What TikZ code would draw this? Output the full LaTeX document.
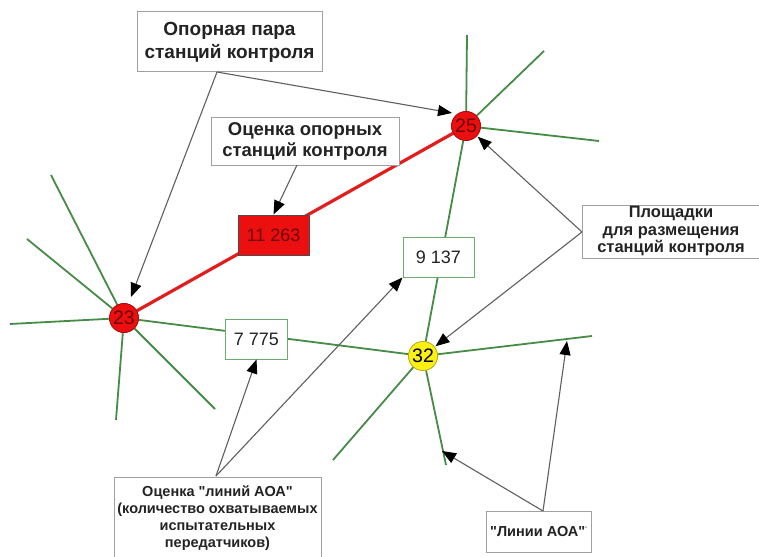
\documentclass[tikz,border=0pt]{standalone}
\usepackage{fontspec}
\setmainfont{Liberation Sans}[Ligatures=TeXOff]
\usetikzlibrary{arrows.meta}
\definecolor{lgreen}{RGB}{70,140,70}
\definecolor{nbgreen}{RGB}{110,170,110}
\definecolor{boxgray}{RGB}{160,160,160}
\definecolor{arrgray}{RGB}{95,95,95}
\definecolor{nred}{RGB}{235,15,15}
\definecolor{lred}{RGB}{225,30,30}
\definecolor{dred}{RGB}{110,5,5}
\definecolor{nyel}{RGB}{250,240,20}
\definecolor{txt}{RGB}{35,35,35}
\begin{document}
\begin{tikzpicture}[x=1pt,y=-1pt,
  station/.style={circle,draw=#1!70!black,fill=#1,line width=0.6pt,minimum size=29pt,inner sep=0pt,
    font=\fontsize{19.5}{19.5}\selectfont},
  callout/.style={draw=boxgray,fill=white,line width=1pt,align=center,text=txt,inner sep=0pt},
  numbox/.style={draw=nbgreen,fill=white,line width=1pt,inner sep=0pt,text=txt,
    font=\fontsize{18}{18}\selectfont},
  gline/.style={lgreen,line width=1.8pt},
  rline/.style={lred,line width=3.2pt},
  pointer/.style={arrgray,line width=1.1pt,-{Triangle[length=14pt,width=11pt,color=black]}}
]
\useasboundingbox (0,0) rectangle (759,556);
\fill[white] (0,0) rectangle (759,556);

% stations
\node[station=nred,text=dred] (s23) at (124,318) {23};
\node[station=nred,text=dred] (s25) at (466,126) {25};
\node[station=nyel,text=black] (s32) at (423,356) {32};

% free ends of AOA lines
\coordinate (a1) at (51,175);
\coordinate (a2) at (27,239);
\coordinate (a3) at (10,324);
\coordinate (a4) at (116,420);
\coordinate (a5) at (215,409);
\coordinate (b1) at (467,35);
\coordinate (b2) at (544,51);
\coordinate (b3) at (599,141);
\coordinate (c1) at (592,336);
\coordinate (c2) at (333,460);
\coordinate (c3) at (446,465);

\foreach \e in {a1,a2,a3,a4,a5} \draw[gline] (s23) -- (\e);
\foreach \e in {b1,b2,b3} \draw[gline] (s25) -- (\e);
\foreach \e in {c1,c2,c3} \draw[gline] (s32) -- (\e);
\draw[gline] (s23) -- (s32);
\draw[gline] (s25) -- (s32);
\draw[rline] (s23) -- (s25);
% redraw stations on top
\node[station=nred,text=dred] at (124,318) {23};
\node[station=nred,text=dred] at (466,126) {25};
\node[station=nyel,text=black] at (423,356) {32};

% number boxes
\node[draw=black!70,fill=nred,line width=1pt,inner sep=0pt,minimum width=71pt,minimum height=40pt,
  text=dred,font=\fontsize{18}{18}\selectfont] (n11263) at (273.5,235) {11 263};
\node[numbox,minimum width=71pt,minimum height=40pt] (n9137) at (438.5,257) {9 137};
\node[numbox,minimum width=62pt,minimum height=40pt] (n7775) at (256.5,339) {7 775};

% callouts
\node[callout,minimum width=185pt,minimum height=60pt,font=\bfseries\fontsize{19}{23}\selectfont]
  (opara) at (229.5,42) {Опорная пара\\станций контроля};
\node[callout,minimum width=188pt,minimum height=47pt,font=\bfseries\fontsize{18.5}{21.5}\selectfont]
  (ooporn) at (305,141.5) {Оценка опорных\\станций контроля};
\node[callout,minimum width=178pt,minimum height=53pt,font=\bfseries\fontsize{16.5}{17.5}\selectfont]
  (plosh) at (671,231.5) {Площадки\\для размещения\\станций контроля};
\node[callout,minimum width=207pt,minimum height=82pt,font=\bfseries\fontsize{14.5}{16.8}\selectfont]
  (ocen) at (217.5,518) {Оценка "линий АОА"\\(количество охватываемых\\испытательных\\передатчиков)};
\node[callout,minimum width=105pt,minimum height=41pt,font=\bfseries\fontsize{14.5}{16}\selectfont]
  (linii) at (538.5,531.5) {"Линии АОА"\raisebox{4pt}{\fontsize{8}{8}\selectfont\textmd{'}}};

% pointer origins and targets
\coordinate (opS) at (217,72);
\coordinate (ooS) at (297,165);
\coordinate (plW) at (582,232);
\coordinate (ocN) at (216,476);
\coordinate (liN) at (543,511);
\coordinate (t23) at (131,297);
\coordinate (t25a) at (452,113);
\coordinate (tc1) at (567,341);
\coordinate (tc3) at (442,451);

\draw[pointer] (opS) -- (t23);
\draw[pointer] (opS) -- (t25a);
\draw[pointer] (ooS) -- (n11263.north);
\draw[pointer,shorten >=1pt] (plW) -- (s25);
\draw[pointer,shorten >=1pt] (plW) -- (s32);
\draw[pointer] (ocN) -- (n7775.south);
\draw[pointer] (ocN) -- (n9137.south west);
\draw[pointer] (liN) -- (tc1);
\draw[pointer] (liN) -- (tc3);
\end{tikzpicture}
\end{document}
